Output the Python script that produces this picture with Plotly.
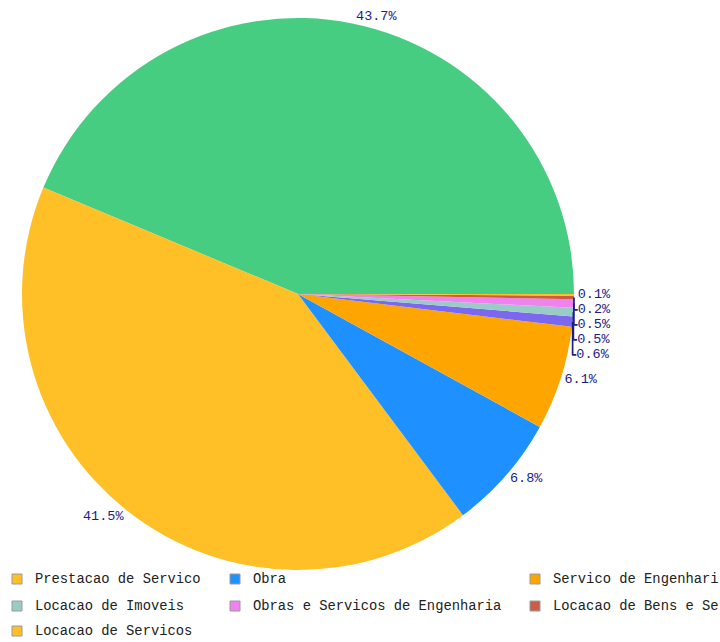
import plotly.graph_objects as go

# ---- data ----
slice_labels = [
    "Outros Servicos",
    "Prestacao de Servico",
    "Obra",
    "Servico de Engenhari",
    "Outros",
    "Locacao de Imoveis",
    "Obras e Servicos de Engenharia",
    "Locacao de Bens e Se",
    "Locacao de Servicos",
]
slice_values = [43.7, 41.5, 6.8, 6.1, 0.6, 0.5, 0.5, 0.2, 0.1]
slice_colors = ["#46CD82", "#FFBF26", "#1E90FF", "#FFA500", "#7B68EE",
                "#99CCC7", "#EE82EE", "#CD5C47", "#FFBF26"]

legend_labels = [
    "Prestacao de Servico", "Obra", "Servico de Engenhari",
    "Locacao de Imoveis", "Obras e Servicos de Engenharia", "Locacao de Bens e Se",
    "Locacao de Servicos",
]
legend_colors = ["#FFBF26", "#1E90FF", "#FFA500",
                 "#99CCC7", "#EE82EE", "#CD5C47",
                 "#FFBF26"]

W, H = 720, 642

def px(x):
    return x / W

def py(y):
    return 1 - y / H

# first slice lies counterclockwise from 3 o'clock
first_share = slice_values[0] / sum(slice_values)
start_rotation = 90 - 360 * first_share

fig = go.Figure()
fig.add_trace(go.Pie(
    labels=slice_labels,
    values=slice_values,
    sort=False,
    direction="counterclockwise",
    rotation=start_rotation,
    marker=dict(colors=slice_colors, line=dict(width=0)),
    texttemplate="%{percent:.1%}",
    textposition="outside",
    textfont=dict(family="Liberation Mono, DejaVu Sans Mono, monospace", size=13.5, color="#1C1C8C"),
    domain=dict(x=[px(22), px(574)], y=[py(570), py(18)]),
    showlegend=False,
    hoverinfo="label+percent",
))

shapes = []
annotations = []
col_sq = [12, 230, 530]
row_y = [579, 606, 631]
for i, (lab, col) in enumerate(zip(legend_labels, legend_colors)):
    r, c = divmod(i, 3)
    sx = col_sq[c]
    cy = row_y[r]
    shapes.append(dict(
        type="rect", xref="paper", yref="paper",
        x0=px(sx), x1=px(sx + 10), y0=py(cy + 5), y1=py(cy - 5),
        fillcolor=col, line=dict(color="#9a9a9a", width=1),
    ))
    annotations.append(dict(
        xref="paper", yref="paper", x=px(sx + 21), y=py(cy),
        xanchor="left", yanchor="middle", showarrow=False,
        text=lab,
        font=dict(family="Liberation Mono, DejaVu Sans Mono, monospace", size=13.8, color="#222222"),
    ))

fig.update_layout(
    width=W, height=H,
    margin=dict(l=0, r=0, t=0, b=0, autoexpand=False),
    paper_bgcolor="white",
    plot_bgcolor="white",
    shapes=shapes,
    annotations=annotations,
)

fig.write_html("out.html")
